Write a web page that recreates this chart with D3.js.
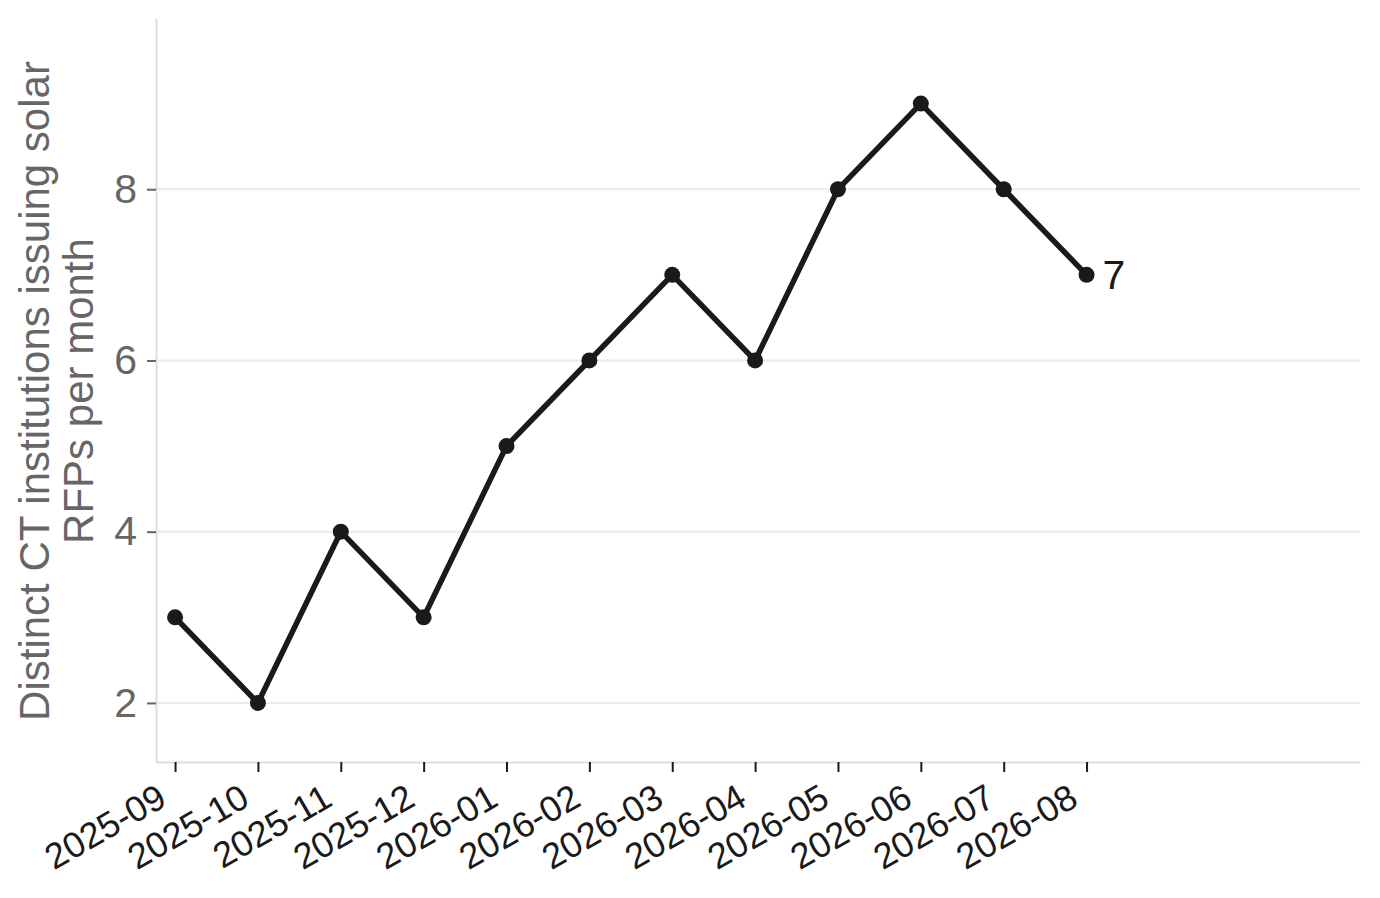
<!DOCTYPE html>
<html lang="en">
  <head>
    <meta charset="utf-8">
    <title>Solar RFPs per month</title>
    <script type="text/javascript" src="https://d3js.org/d3.v7.min.js"></script>
    <style type="text/css">
      body{
        margin: 0;
        background: #ffffff;
        font-family: "Liberation Sans", Arial, sans-serif;
      }
    </style>
  </head>
  <body>
    <div id="placeHere"></div>
    <script type="text/javascript">
      // data
      var months = ["2025-09", "2025-10", "2025-11", "2025-12", "2026-01", "2026-02",
                    "2026-03", "2026-04", "2026-05", "2026-06", "2026-07", "2026-08"];
      var institutions = [3, 2, 4, 3, 5, 6, 7, 6, 8, 9, 8, 7];
      var yTicks = [2, 4, 6, 8];

      var w = 1380;
      var h = 898;
      var padL = 156, padR = 1360, padT = 18, padB = 762;

      var svg = d3.select("#placeHere")
                  .append("svg")
                  .attr("width", w)
                  .attr("height", h);

      // scales
      var xScale = d3.scaleLinear()
                     .domain([-0.23, 14.3])
                     .range([padL, padR]);

      var yScale = d3.scaleLinear()
                     .domain([1.31, 10.0])
                     .range([padB, padT]);

      // gridlines
      svg.append("g")
         .selectAll("line")
         .data(yTicks)
         .enter()
         .append("line")
         .attr("x1", padL)
         .attr("x2", padR)
         .attr("y1", function(d){ return yScale(d); })
         .attr("y2", function(d){ return yScale(d); })
         .attr("stroke", "#ebebeb")
         .attr("stroke-width", 2);

      // y axis
      var yAxis = svg.append("g")
         .attr("transform", "translate(" + padL + ",0)")
         .call(d3.axisLeft(yScale).tickValues(yTicks).tickSizeInner(9).tickSizeOuter(0).tickPadding(10).tickFormat(d3.format("d")));
      yAxis.attr("font-size", null);
      yAxis.select(".domain").attr("stroke", "#dddddd").attr("stroke-width", 2);
      yAxis.selectAll(".tick line").attr("stroke", "#666666").attr("stroke-width", 2);
      yAxis.selectAll(".tick text")
           .attr("fill", "#666666")
           .style("font-size", "41px")
           .style("font-family", "Liberation Sans, Arial, sans-serif");

      // x axis
      var xAxis = svg.append("g")
         .attr("transform", "translate(0," + padB + ")")
         .call(d3.axisBottom(xScale)
                 .tickValues(d3.range(months.length))
                 .tickSizeInner(10)
                 .tickSizeOuter(0)
                 .tickFormat(function(i){ return months[i]; }));
      xAxis.attr("font-size", null);
      xAxis.select(".domain").attr("stroke", "#dddddd").attr("stroke-width", 2);
      xAxis.selectAll(".tick line").attr("stroke", "#1a1a1a").attr("stroke-width", 2);
      // rotated labels, right end a little left of the tick
      xAxis.selectAll(".tick text")
           .attr("fill", "#1a1a1a")
           .style("font-size", "36px")
           .style("font-family", "Liberation Sans, Arial, sans-serif")
           .attr("text-anchor", "end")
           .attr("x", 0)
           .attr("y", 0)
           .attr("dy", "0.72em")
           .attr("transform", "translate(-20,20) rotate(-30)");

      // line
      var line = d3.line()
                   .x(function(d, i){ return xScale(i); })
                   .y(function(d){ return yScale(d); });

      svg.append("path")
         .datum(institutions)
         .attr("d", line)
         .attr("fill", "none")
         .attr("stroke", "#1a1a1a")
         .attr("stroke-width", 5.5)
         .attr("stroke-linejoin", "miter");

      svg.selectAll("circle")
         .data(institutions)
         .enter()
         .append("circle")
         .attr("cx", function(d, i){ return xScale(i); })
         .attr("cy", function(d){ return yScale(d); })
         .attr("r", 8)
         .attr("fill", "#1a1a1a");

      // last value label
      var last = institutions.length - 1;
      svg.append("text")
         .text(institutions[last])
         .attr("x", xScale(last) + 16)
         .attr("y", yScale(institutions[last]))
         .attr("dy", "0.35em")
         .style("font-size", "41px")
         .style("font-family", "Liberation Sans, Arial, sans-serif")
         .attr("fill", "#1a1a1a");

      // y label
      var ylab = svg.append("text")
         .attr("transform", "translate(53,391) rotate(-90)")
         .attr("text-anchor", "middle")
         .style("font-size", "42px")
         .style("font-family", "Liberation Sans, Arial, sans-serif")
         .attr("fill", "#666666");
      ylab.append("tspan").attr("x", 0).attr("dy", "-0.1em").text("Distinct CT institutions issuing solar");
      ylab.append("tspan").attr("x", 0).attr("dy", "1.05em").text("RFPs per month");
    </script>
  </body>
</html>
